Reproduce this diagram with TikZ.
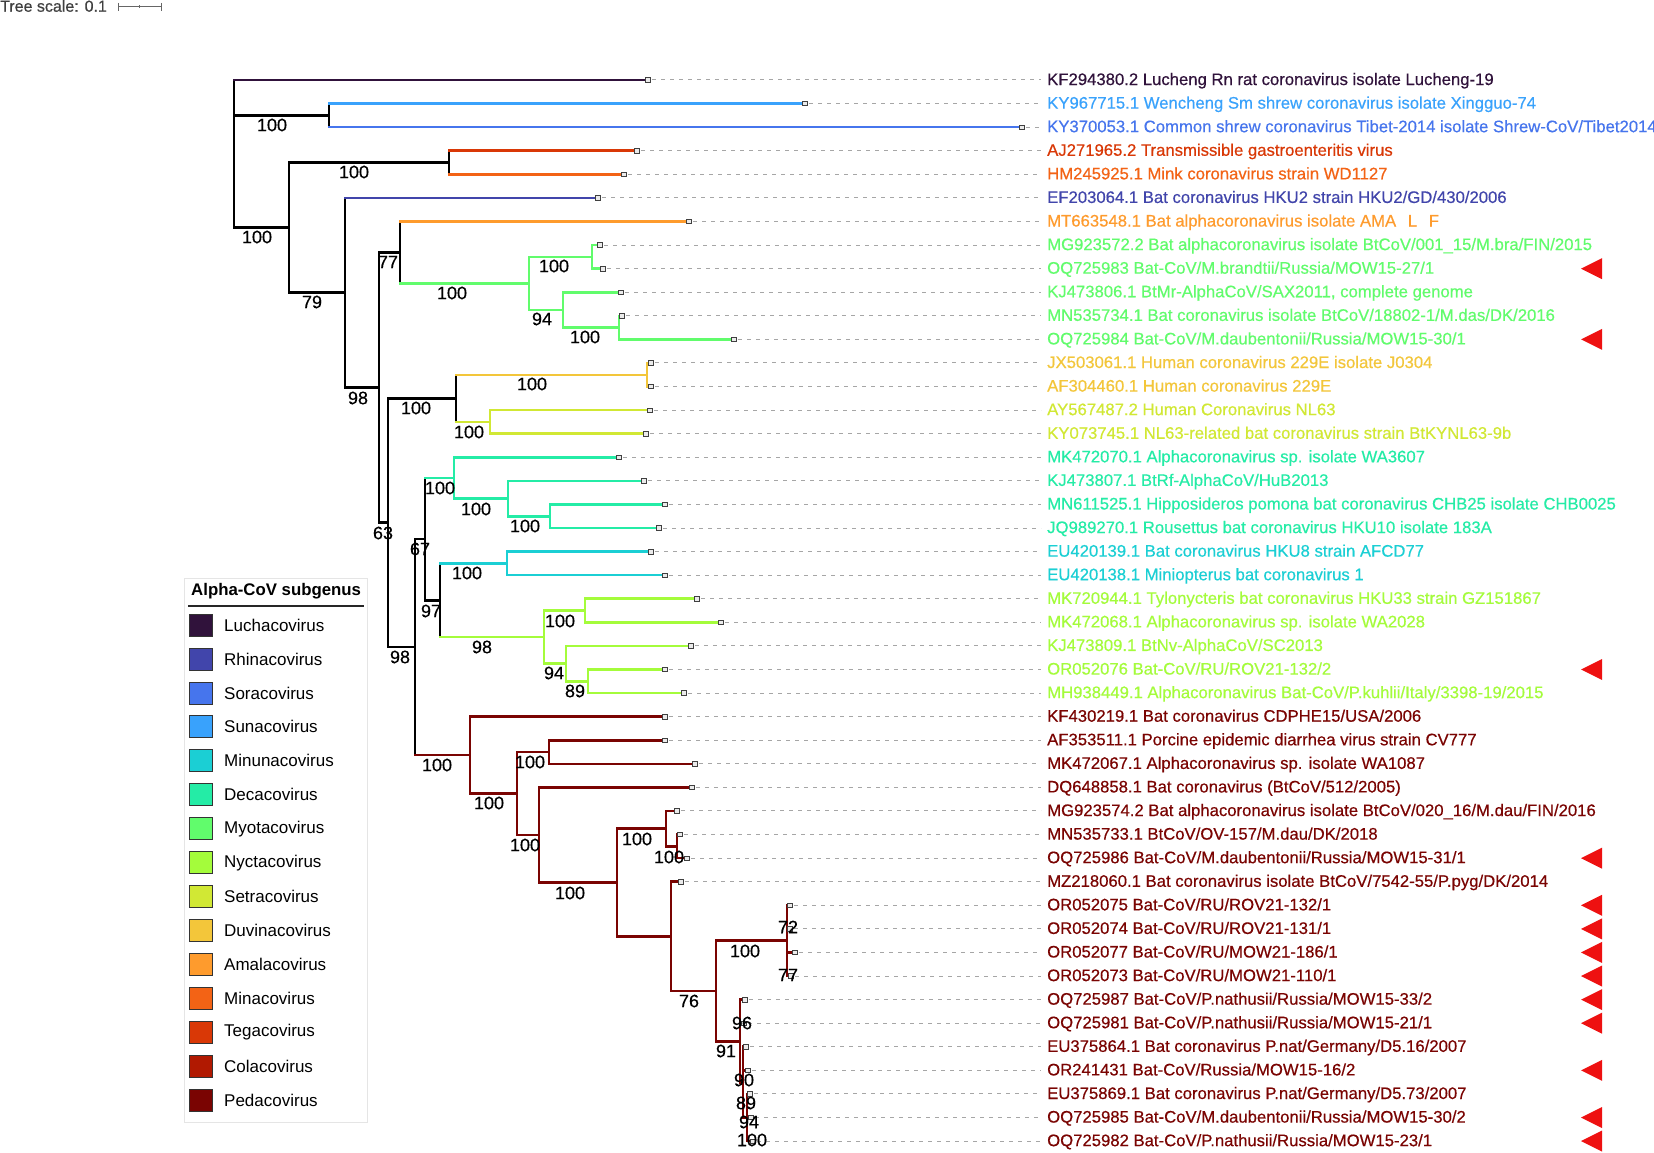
\documentclass[tikz,border=0pt]{standalone}
\usepackage{fontspec}
\setmainfont{Liberation Sans}
\newfontfamily\lblfont[FakeBold=0.45]{Liberation Sans}
\definecolor{cLucha}{HTML}{30123B}
\definecolor{cRhina}{HTML}{4145AB}
\definecolor{cSora}{HTML}{4675ED}
\definecolor{cSuna}{HTML}{39A2FC}
\definecolor{cMinuna}{HTML}{1BCFD4}
\definecolor{cDeca}{HTML}{24ECA6}
\definecolor{cMyota}{HTML}{61FC6C}
\definecolor{cNycta}{HTML}{A4FC3B}
\definecolor{cSetra}{HTML}{D1E834}
\definecolor{cDuvina}{HTML}{F3C63A}
\definecolor{cAmala}{HTML}{FE9B2D}
\definecolor{cMina}{HTML}{F36315}
\definecolor{cTega}{HTML}{D93806}
\definecolor{cCola}{HTML}{B11901}
\definecolor{cPeda}{HTML}{7A0402}
\definecolor{cTri}{HTML}{EE1111}
\pgfmathdeclarefunction{ly}{1}{\pgfmathparse{80+(#1-1)*23.58}}
\tikzset{
  br/.style={line width=2.6pt, line cap=rect},
  tipbox/.style={draw=black!75, fill=black!8, line width=0.7pt, minimum size=4.5pt, inner sep=0pt, rectangle},
  leader/.style={draw=black!35, line width=1pt, dash pattern=on 4pt off 5pt},
  bs/.style={inner sep=0pt, font=\lblfont\fontsize{18}{18}\selectfont},
  lab/.style={anchor=west, inner sep=0pt, text height=12pt, text depth=3.5pt, font=\lblfont\fontsize{16.7}{18}\selectfont},
  swatch/.style={draw=black!80, line width=0.8pt, minimum width=23pt, minimum height=22pt, inner sep=0pt},
  legtxt/.style={anchor=west, inner sep=0pt, font=\fontsize{17}{18}\selectfont}
}
\newcommand\brH[3]{\draw[br,#1] (#2 |- #3) -- (#3);}
\newcommand\brV[4]{\draw[br,#1] (#2 |- #3) -- (#2 |- #4);}
\newcommand\tipleaf[3]{%
  \node[lab,text=#2] (L#1) at (1047,{ly(#1)+0.8}) {#3};
  \draw[leader] (T#1) ++(5,0) -- ([xshift=-6pt,yshift=0.8pt]L#1.west);
}
\newcommand\tipmark[1]{\node[tipbox] (B#1) at ([xshift=1pt]T#1) {};}
\newcommand\tri[1]{\fill[cTri] (1581,{ly(#1)}) -- (1602,{ly(#1)-10.5}) -- (1602,{ly(#1)+10.5}) -- cycle;}
\begin{document}
\begin{tikzpicture}[x=1pt,y=-1pt]
\useasboundingbox (0,0) rectangle (1654,1153);
\fill[white] (0,0) rectangle (1654,1153);

% tree scale
\node[anchor=west, inner sep=0pt, text=black!75, font=\lblfont\fontsize{16}{16}\selectfont] (tscale) at (0,6) {Tree scale: 0.1};
\draw[black!60, line width=1pt] (118,7) -- (161,7);
\draw[black!60, line width=1pt] (118,3) -- (118,11) (161,3) -- (161,11) (139.5,5.5) -- (139.5,8.5);

% tips
\coordinate (T1) at (647,{ly(1)});
\coordinate (T2) at (804,{ly(2)});
\coordinate (T3) at (1021,{ly(3)});
\coordinate (T4) at (636,{ly(4)});
\coordinate (T5) at (623,{ly(5)});
\coordinate (T6) at (597,{ly(6)});
\coordinate (T7) at (688,{ly(7)});
\coordinate (T8) at (599,{ly(8)});
\coordinate (T9) at (602,{ly(9)});
\coordinate (T10) at (620,{ly(10)});
\coordinate (T11) at (621,{ly(11)});
\coordinate (T12) at (733,{ly(12)});
\coordinate (T13) at (650,{ly(13)});
\coordinate (T14) at (650,{ly(14)});
\coordinate (T15) at (649,{ly(15)});
\coordinate (T16) at (645,{ly(16)});
\coordinate (T17) at (618,{ly(17)});
\coordinate (T18) at (643,{ly(18)});
\coordinate (T19) at (664,{ly(19)});
\coordinate (T20) at (658,{ly(20)});
\coordinate (T21) at (650,{ly(21)});
\coordinate (T22) at (664,{ly(22)});
\coordinate (T23) at (696,{ly(23)});
\coordinate (T24) at (720,{ly(24)});
\coordinate (T25) at (690,{ly(25)});
\coordinate (T26) at (664,{ly(26)});
\coordinate (T27) at (683,{ly(27)});
\coordinate (T28) at (664,{ly(28)});
\coordinate (T29) at (664,{ly(29)});
\coordinate (T30) at (694,{ly(30)});
\coordinate (T31) at (691,{ly(31)});
\coordinate (T32) at (676,{ly(32)});
\coordinate (T33) at (679,{ly(33)});
\coordinate (T34) at (686,{ly(34)});
\coordinate (T35) at (680,{ly(35)});
\coordinate (T36) at (789,{ly(36)});
\coordinate (T37) at (789,{ly(37)});
\coordinate (T38) at (794,{ly(38)});
\coordinate (T39) at (790,{ly(39)});
\coordinate (T40) at (744,{ly(40)});
\coordinate (T41) at (743,{ly(41)});
\coordinate (T42) at (745,{ly(42)});
\coordinate (T43) at (747,{ly(43)});
\coordinate (T44) at (749,{ly(44)});
\coordinate (T45) at (750,{ly(45)});
\coordinate (T46) at (752,{ly(46)});

% internal nodes
\coordinate (R0) at (234,154);
\coordinate (nA) at (329,115.4);
\coordinate (nB) at (289,227.6);
\coordinate (nC) at (449,162.5);
\coordinate (nD) at (345,292.7);
\coordinate (nE) at (379,387.6);
\coordinate (nF) at (400,252.4);
\coordinate (nM) at (529,283.4);
\coordinate (nM1) at (592,256.9);
\coordinate (nM2) at (563,309.9);
\coordinate (nM3) at (619,327.6);
\coordinate (nG) at (388,522.7);
\coordinate (nH) at (456,398.3);
\coordinate (nI) at (647,374.8);
\coordinate (nJ) at (490,421.9);
\coordinate (nK) at (415,647.1);
\coordinate (nL) at (425,539.1);
\coordinate (nN) at (454,478.0);
\coordinate (nO) at (508,498.6);
\coordinate (nP) at (550,516.2);
\coordinate (nQ) at (440,600.3);
\coordinate (nR) at (507,563.4);
\coordinate (nS) at (544,637.1);
\coordinate (nT) at (585,610.6);
\coordinate (nU) at (566,663.6);
\coordinate (nV) at (588,681.3);
\coordinate (nW) at (470,755.1);
\coordinate (nX) at (517,793.5);
\coordinate (nY) at (549,752.0);
\coordinate (nZ) at (539,835.0);
\coordinate (nAA) at (617,882.7);
\coordinate (nAB) at (666,828.7);
\coordinate (nAC) at (677,846.4);
\coordinate (nAD) at (671,936.6);
\coordinate (nAE) at (716,991.1);
\coordinate (nAF) at (787,940.7);
\coordinate (nAG) at (740,1041.5);
\coordinate (nAGb) at (743,1082.2);
\coordinate (nAGc) at (747,1117.5);

% labels and leaders
\tipleaf{1}{cLucha}{KF294380.2 Lucheng Rn rat coronavirus isolate Lucheng-19}
\tipleaf{2}{cSuna}{KY967715.1 Wencheng Sm shrew coronavirus isolate Xingguo-74}
\tipleaf{3}{cSora}{KY370053.1 Common shrew coronavirus Tibet-2014 isolate Shrew-CoV/Tibet2014}
\tipleaf{4}{cTega}{AJ271965.2 Transmissible gastroenteritis virus}
\tipleaf{5}{cMina}{HM245925.1 Mink coronavirus strain WD1127}
\tipleaf{6}{cRhina}{EF203064.1 Bat coronavirus HKU2 strain HKU2/GD/430/2006}
\tipleaf{7}{cAmala}{MT663548.1 Bat alphacoronavirus isolate AMA\hspace{0.7em}L\hspace{0.7em}F}
\tipleaf{8}{cMyota}{MG923572.2 Bat alphacoronavirus isolate BtCoV/001\_15/M.bra/FIN/2015}
\tipleaf{9}{cMyota}{OQ725983 Bat-CoV/M.brandtii/Russia/MOW15-27/1}
\tipleaf{10}{cMyota}{KJ473806.1 BtMr-AlphaCoV/SAX2011, complete genome}
\tipleaf{11}{cMyota}{MN535734.1 Bat coronavirus isolate BtCoV/18802-1/M.das/DK/2016}
\tipleaf{12}{cMyota}{OQ725984 Bat-CoV/M.daubentonii/Russia/MOW15-30/1}
\tipleaf{13}{cDuvina}{JX503061.1 Human coronavirus 229E isolate J0304}
\tipleaf{14}{cDuvina}{AF304460.1 Human coronavirus 229E}
\tipleaf{15}{cSetra}{AY567487.2 Human Coronavirus NL63}
\tipleaf{16}{cSetra}{KY073745.1 NL63-related bat coronavirus strain BtKYNL63-9b}
\tipleaf{17}{cDeca}{MK472070.1 Alphacoronavirus sp. isolate WA3607}
\tipleaf{18}{cDeca}{KJ473807.1 BtRf-AlphaCoV/HuB2013}
\tipleaf{19}{cDeca}{MN611525.1 Hipposideros pomona bat coronavirus CHB25 isolate CHB0025}
\tipleaf{20}{cDeca}{JQ989270.1 Rousettus bat coronavirus HKU10 isolate 183A}
\tipleaf{21}{cMinuna}{EU420139.1 Bat coronavirus HKU8 strain AFCD77}
\tipleaf{22}{cMinuna}{EU420138.1 Miniopterus bat coronavirus 1}
\tipleaf{23}{cNycta}{MK720944.1 Tylonycteris bat coronavirus HKU33 strain GZ151867}
\tipleaf{24}{cNycta}{MK472068.1 Alphacoronavirus sp. isolate WA2028}
\tipleaf{25}{cNycta}{KJ473809.1 BtNv-AlphaCoV/SC2013}
\tipleaf{26}{cNycta}{OR052076 Bat-CoV/RU/ROV21-132/2}
\tipleaf{27}{cNycta}{MH938449.1 Alphacoronavirus Bat-CoV/P.kuhlii/Italy/3398-19/2015}
\tipleaf{28}{cPeda}{KF430219.1 Bat coronavirus CDPHE15/USA/2006}
\tipleaf{29}{cPeda}{AF353511.1 Porcine epidemic diarrhea virus strain CV777}
\tipleaf{30}{cPeda}{MK472067.1 Alphacoronavirus sp. isolate WA1087}
\tipleaf{31}{cPeda}{DQ648858.1 Bat coronavirus (BtCoV/512/2005)}
\tipleaf{32}{cPeda}{MG923574.2 Bat alphacoronavirus isolate BtCoV/020\_16/M.dau/FIN/2016}
\tipleaf{33}{cPeda}{MN535733.1 BtCoV/OV-157/M.dau/DK/2018}
\tipleaf{34}{cPeda}{OQ725986 Bat-CoV/M.daubentonii/Russia/MOW15-31/1}
\tipleaf{35}{cPeda}{MZ218060.1 Bat coronavirus isolate BtCoV/7542-55/P.pyg/DK/2014}
\tipleaf{36}{cPeda}{OR052075 Bat-CoV/RU/ROV21-132/1}
\tipleaf{37}{cPeda}{OR052074 Bat-CoV/RU/ROV21-131/1}
\tipleaf{38}{cPeda}{OR052077 Bat-CoV/RU/MOW21-186/1}
\tipleaf{39}{cPeda}{OR052073 Bat-CoV/RU/MOW21-110/1}
\tipleaf{40}{cPeda}{OQ725987 Bat-CoV/P.nathusii/Russia/MOW15-33/2}
\tipleaf{41}{cPeda}{OQ725981 Bat-CoV/P.nathusii/Russia/MOW15-21/1}
\tipleaf{42}{cPeda}{EU375864.1 Bat coronavirus P.nat/Germany/D5.16/2007}
\tipleaf{43}{cPeda}{OR241431 Bat-CoV/Russia/MOW15-16/2}
\tipleaf{44}{cPeda}{EU375869.1 Bat coronavirus P.nat/Germany/D5.73/2007}
\tipleaf{45}{cPeda}{OQ725985 Bat-CoV/M.daubentonii/Russia/MOW15-30/2}
\tipleaf{46}{cPeda}{OQ725982 Bat-CoV/P.nathusii/Russia/MOW15-23/1}

% branches
\brV{black}{R0}{T1}{nB}
\brH{cLucha}{R0}{T1}
\brH{black}{R0}{nA}
\brV{black}{nA}{T2}{T3}
\brH{cSuna}{nA}{T2}
\brH{cSora}{nA}{T3}
\brH{black}{R0}{nB}
\brV{black}{nB}{nC}{nD}
\brH{black}{nB}{nC}
\brV{black}{nC}{T4}{T5}
\brH{cTega}{nC}{T4}
\brH{cMina}{nC}{T5}
\brH{black}{nB}{nD}
\brV{black}{nD}{T6}{nE}
\brH{cRhina}{nD}{T6}
\brH{black}{nD}{nE}
\brV{black}{nE}{nF}{nG}
\brH{black}{nE}{nF}
\brV{black}{nF}{T7}{nM}
\brH{cAmala}{nF}{T7}
\brH{cMyota}{nF}{nM}
\brV{cMyota}{nM}{nM1}{nM2}
\brH{cMyota}{nM}{nM1}
\brV{cMyota}{nM1}{T8}{T9}
\brH{cMyota}{nM1}{T8}
\brH{cMyota}{nM1}{T9}
\brH{cMyota}{nM}{nM2}
\brV{cMyota}{nM2}{T10}{nM3}
\brH{cMyota}{nM2}{T10}
\brH{cMyota}{nM2}{nM3}
\brV{cMyota}{nM3}{T11}{T12}
\brH{cMyota}{nM3}{T11}
\brH{cMyota}{nM3}{T12}
\brH{black}{nE}{nG}
\brV{black}{nG}{nH}{nK}
\brH{black}{nG}{nH}
\brV{black}{nH}{nI}{nJ}
\brH{cDuvina}{nH}{nI}
\brV{cDuvina}{nI}{T13}{T14}
\brH{cDuvina}{nI}{T13}
\brH{cDuvina}{nI}{T14}
\brH{cSetra}{nH}{nJ}
\brV{cSetra}{nJ}{T15}{T16}
\brH{cSetra}{nJ}{T15}
\brH{cSetra}{nJ}{T16}
\brH{black}{nG}{nK}
\brV{black}{nK}{nL}{nW}
\brH{black}{nK}{nL}
\brV{black}{nL}{nN}{nQ}
\brH{cDeca}{nL}{nN}
\brV{cDeca}{nN}{T17}{nO}
\brH{cDeca}{nN}{T17}
\brH{cDeca}{nN}{nO}
\brV{cDeca}{nO}{T18}{nP}
\brH{cDeca}{nO}{T18}
\brH{cDeca}{nO}{nP}
\brV{cDeca}{nP}{T19}{T20}
\brH{cDeca}{nP}{T19}
\brH{cDeca}{nP}{T20}
\brH{black}{nL}{nQ}
\brV{black}{nQ}{nR}{nS}
\brH{cMinuna}{nQ}{nR}
\brV{cMinuna}{nR}{T21}{T22}
\brH{cMinuna}{nR}{T21}
\brH{cMinuna}{nR}{T22}
\brH{cNycta}{nQ}{nS}
\brV{cNycta}{nS}{nT}{nU}
\brH{cNycta}{nS}{nT}
\brV{cNycta}{nT}{T23}{T24}
\brH{cNycta}{nT}{T23}
\brH{cNycta}{nT}{T24}
\brH{cNycta}{nS}{nU}
\brV{cNycta}{nU}{T25}{nV}
\brH{cNycta}{nU}{T25}
\brH{cNycta}{nU}{nV}
\brV{cNycta}{nV}{T26}{T27}
\brH{cNycta}{nV}{T26}
\brH{cNycta}{nV}{T27}
\brH{cPeda}{nK}{nW}
\brV{cPeda}{nW}{T28}{nX}
\brH{cPeda}{nW}{T28}
\brH{cPeda}{nW}{nX}
\brV{cPeda}{nX}{nY}{nZ}
\brH{cPeda}{nX}{nY}
\brV{cPeda}{nY}{T29}{T30}
\brH{cPeda}{nY}{T29}
\brH{cPeda}{nY}{T30}
\brH{cPeda}{nX}{nZ}
\brV{cPeda}{nZ}{T31}{nAA}
\brH{cPeda}{nZ}{T31}
\brH{cPeda}{nZ}{nAA}
\brV{cPeda}{nAA}{nAB}{nAD}
\brH{cPeda}{nAA}{nAB}
\brV{cPeda}{nAB}{T32}{nAC}
\brH{cPeda}{nAB}{T32}
\brH{cPeda}{nAB}{nAC}
\brV{cPeda}{nAC}{T33}{T34}
\brH{cPeda}{nAC}{T33}
\brH{cPeda}{nAC}{T34}
\brH{cPeda}{nAA}{nAD}
\brV{cPeda}{nAD}{T35}{nAE}
\brH{cPeda}{nAD}{T35}
\brH{cPeda}{nAD}{nAE}
\brV{cPeda}{nAE}{nAF}{nAG}
\brH{cPeda}{nAE}{nAF}
\brV{cPeda}{nAF}{T36}{T39}
\brH{cPeda}{nAF}{T36}
\brH{cPeda}{nAF}{T37}
\brH{cPeda}{nAF}{T38}
\brH{cPeda}{nAF}{T39}
\brH{cPeda}{nAE}{nAG}
\brV{cPeda}{nAG}{T40}{nAGb}
\brH{cPeda}{nAG}{T40}
\brH{cPeda}{nAG}{T41}
\brH{cPeda}{nAG}{nAGb}
\brV{cPeda}{nAGb}{T42}{nAGc}
\brH{cPeda}{nAGb}{T42}
\brH{cPeda}{nAGb}{T43}
\brH{cPeda}{nAGb}{nAGc}
\brV{cPeda}{nAGc}{T44}{T46}
\brH{cPeda}{nAGc}{T44}
\brH{cPeda}{nAGc}{T45}
\brH{cPeda}{nAGc}{T46}

% tip markers
\foreach \i in {1,...,46} {\tipmark{\i}}

% bootstrap values
\node[bs] (b1) at (272,125) {100};
\node[bs] (b2) at (257,237) {100};
\node[bs] (b3) at (354,172) {100};
\node[bs] (b4) at (312,302) {79};
\node[bs] (b5) at (358,398) {98};
\node[bs] (b6) at (388,262) {77};
\node[bs] (b7) at (452,293) {100};
\node[bs] (b8) at (554,266) {100};
\node[bs] (b9) at (542,319) {94};
\node[bs] (b10) at (585,337) {100};
\node[bs] (b11) at (383,533) {63};
\node[bs] (b12) at (416,408) {100};
\node[bs] (b13) at (532,384) {100};
\node[bs] (b14) at (469,432) {100};
\node[bs] (b15) at (400,657) {98};
\node[bs] (b16) at (420,549) {67};
\node[bs] (b17) at (440,488) {100};
\node[bs] (b18) at (476,509) {100};
\node[bs] (b19) at (525,526) {100};
\node[bs] (b20) at (431,611) {97};
\node[bs] (b21) at (467,573) {100};
\node[bs] (b22) at (482,647) {98};
\node[bs] (b23) at (560,621) {100};
\node[bs] (b24) at (554,673) {94};
\node[bs] (b25) at (575,691) {89};
\node[bs] (b26) at (437,765) {100};
\node[bs] (b27) at (489,803) {100};
\node[bs] (b28) at (530,762) {100};
\node[bs] (b29) at (525,845) {100};
\node[bs] (b30) at (570,893) {100};
\node[bs] (b31) at (637,839) {100};
\node[bs] (b32) at (669,857) {100};
\node[bs] (b33) at (689,1001) {76};
\node[bs] (b34) at (745,951) {100};
\node[bs] (b35) at (726,1051) {91};
\node[bs] (b36) at (788,927) {72};
\node[bs] (b37) at (788,975) {77};
\node[bs] (b38) at (742,1023) {96};
\node[bs] (b39) at (744,1080) {90};
\node[bs] (b40) at (746,1103) {89};
\node[bs] (b41) at (749,1122) {94};
\node[bs] (b42) at (752,1140) {100};

% red triangles
\foreach \i in {9,12,26,34,36,37,38,39,40,41,43,45,46} {\tri{\i}}

% legend
\node[draw=black!10, line width=0.8pt, minimum width=183pt, minimum height=544pt, anchor=north west, inner sep=0pt] (legbox) at (184,578) {};
\node[anchor=west, inner sep=0pt, font=\bfseries\fontsize{16.8}{18}\selectfont] (legtitle) at (191,591) {Alpha-CoV subgenus};
\draw[black!85, line width=1.1pt] (188,606) -- (364,606);
\foreach \c/\n [count=\k from 0] in {cLucha/Luchacovirus, cRhina/Rhinacovirus, cSora/Soracovirus, cSuna/Sunacovirus, cMinuna/Minunacovirus, cDeca/Decacovirus, cMyota/Myotacovirus, cNycta/Nyctacovirus, cSetra/Setracovirus, cDuvina/Duvinacovirus, cAmala/Amalacovirus, cMina/Minacovirus, cTega/Tegacovirus, cCola/Colacovirus, cPeda/Pedacovirus} {
  \node[swatch, fill=\c] (sw\k) at (200.5,{625+\k*33.96}) {};
  \node[legtxt] (lt\k) at (224,{625+\k*33.96}) {\n};
}
\end{tikzpicture}
\end{document}
